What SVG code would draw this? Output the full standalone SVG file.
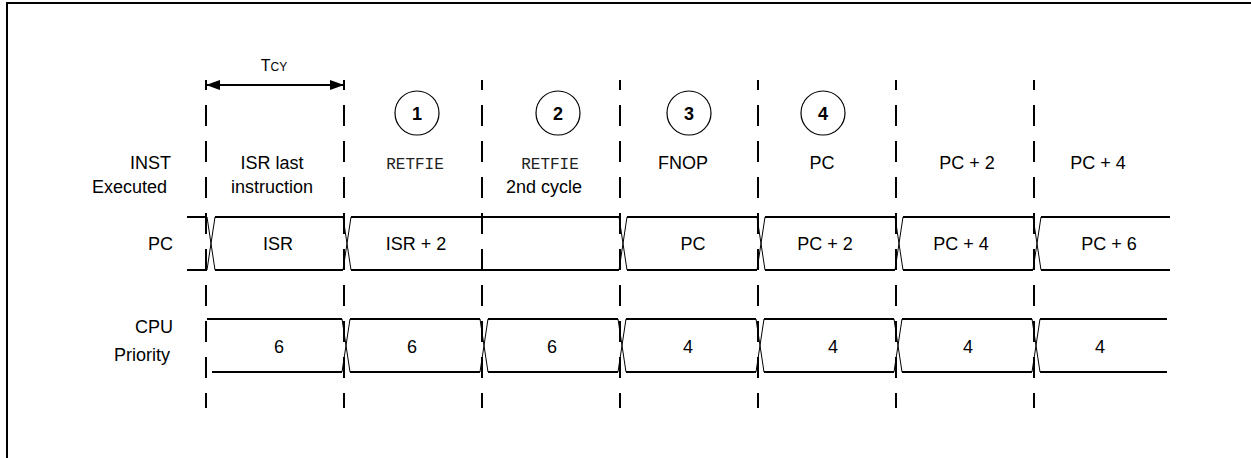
<svg xmlns="http://www.w3.org/2000/svg" width="1251" height="458" viewBox="0 0 1251 458">
<style>
  .t { font-family: "Liberation Sans", Arial, sans-serif; font-size: 18px; fill: #000; }
  .m { font-family: "Liberation Mono", "Courier New", monospace; font-size: 16px; fill: #222; }
  .c { text-anchor: middle; }
  .e { text-anchor: end; }
  .b { font-weight: bold; }
  .dash { stroke: #000; stroke-width: 2; stroke-dasharray: 21 15; stroke-dashoffset: 11; fill: none; }
  .sig { stroke: #000; stroke-width: 2; fill: none; }
  .x { stroke: #000; stroke-width: 1; fill: none; }
  .circ { stroke: #000; stroke-width: 1.2; fill: #fff; }
</style>
<defs>
  <marker id="ah" markerWidth="14" markerHeight="10" refX="13" refY="5" orient="auto-start-reverse" markerUnits="userSpaceOnUse">
    <path d="M0,0 L14,5 L0,10 Z" fill="#000"/>
  </marker>
</defs>
<rect width="1251" height="458" fill="#fff"/>
<!-- frame -->
<path d="M7,458 L7,3 L1251,3" stroke="#000" stroke-width="2" fill="none"/>

<g id="gridlines">
  <line class="dash" x1="206" y1="80" x2="206" y2="408"/>
  <line class="dash" x1="344" y1="80" x2="344" y2="408"/>
  <line class="dash" x1="482" y1="80" x2="482" y2="408"/>
  <line class="dash" x1="620" y1="80" x2="620" y2="408"/>
  <line class="dash" x1="758" y1="80" x2="758" y2="408"/>
  <line class="dash" x1="896" y1="80" x2="896" y2="408"/>
  <line class="dash" x1="1034" y1="80" x2="1034" y2="408"/>
</g>

<g id="tcy">
  <line x1="207" y1="85" x2="343" y2="85" stroke="#000" stroke-width="2" marker-start="url(#ah)" marker-end="url(#ah)"/>
  <text class="t c" x="274" y="71" style="font-size:16px">T<tspan style="font-size:12px">CY</tspan></text>
</g>

<g id="row-labels">
  <text class="t e" x="171" y="169">INST</text>
  <text class="t e" x="167" y="193">Executed</text>
  <text class="t e" x="173" y="250">PC</text>
  <text class="t e" x="173" y="333">CPU</text>
  <text class="t e" x="170" y="361">Priority</text>
</g>

<g id="markers">
  <g id="m1"><circle class="circ" cx="417" cy="113" r="22"/><text class="t c b" x="417" y="120">1</text></g>
  <g id="m2"><circle class="circ" cx="558" cy="113" r="22"/><text class="t c b" x="558" y="120">2</text></g>
  <g id="m3"><circle class="circ" cx="689" cy="113" r="22"/><text class="t c b" x="689" y="120">3</text></g>
  <g id="m4"><circle class="circ" cx="823" cy="113" r="22"/><text class="t c b" x="823" y="120">4</text></g>
</g>

<g id="inst-row">
  <text class="t c" x="272" y="169">ISR last</text>
  <text class="t c" x="272" y="193">instruction</text>
  <text class="m c" x="415" y="169">RETFIE</text>
  <text class="m c" x="550" y="169">RETFIE</text>
  <text class="t c" x="544" y="193">2nd cycle</text>
  <text class="t c" x="683" y="169">FNOP</text>
  <text class="t c" x="822" y="169">PC</text>
  <text class="t c" x="967" y="169">PC + 2</text>
  <text class="t c" x="1098" y="169">PC + 4</text>
</g>

<g id="pc-bus">
  <path class="sig" d="M187,217 H207 M215,217 H343 M351,217 H619 M627,217 H757 M765,217 H895 M903,217 H1033 M1041,217 H1170"/>
  <path class="sig" d="M187,270 H207 M215,270 H343 M351,270 H619 M627,270 H757 M765,270 H895 M903,270 H1033 M1041,270 H1170"/>
  <path class="x" d="M207,217 L215,270 M215,217 L207,270 M343,217 L351,270 M351,217 L343,270 M619,217 L627,270 M627,217 L619,270 M757,217 L765,270 M765,217 L757,270 M895,217 L903,270 M903,217 L895,270 M1033,217 L1041,270 M1041,217 L1033,270"/>
  <text class="t c" x="278" y="250">ISR</text>
  <text class="t c" x="416" y="250">ISR + 2</text>
  <text class="t c" x="693" y="250">PC</text>
  <text class="t c" x="825" y="250">PC + 2</text>
  <text class="t c" x="961" y="250">PC + 4</text>
  <text class="t c" x="1109" y="250">PC + 6</text>
</g>

<g id="cpu-bus">
  <path class="sig" d="M207,319 H342 M350,319 H480 M488,319 H618 M626,319 H756 M764,319 H894 M902,319 H1032 M1040,319 H1167"/>
  <path class="sig" d="M212,372 H342 M350,372 H480 M488,372 H618 M626,372 H756 M764,372 H894 M902,372 H1032 M1040,372 H1167"/>
  <path class="x" d="M342,319 L350,372 M350,319 L342,372 M480,319 L488,372 M488,319 L480,372 M618,319 L626,372 M626,319 L618,372 M756,319 L764,372 M764,319 L756,372 M894,319 L902,372 M902,319 L894,372 M1032,319 L1040,372 M1040,319 L1032,372"/>
  <text class="t c" x="279" y="353">6</text>
  <text class="t c" x="412" y="353">6</text>
  <text class="t c" x="552" y="353">6</text>
  <text class="t c" x="688" y="353">4</text>
  <text class="t c" x="833" y="353">4</text>
  <text class="t c" x="968" y="353">4</text>
  <text class="t c" x="1100" y="353">4</text>
</g>
</svg>
